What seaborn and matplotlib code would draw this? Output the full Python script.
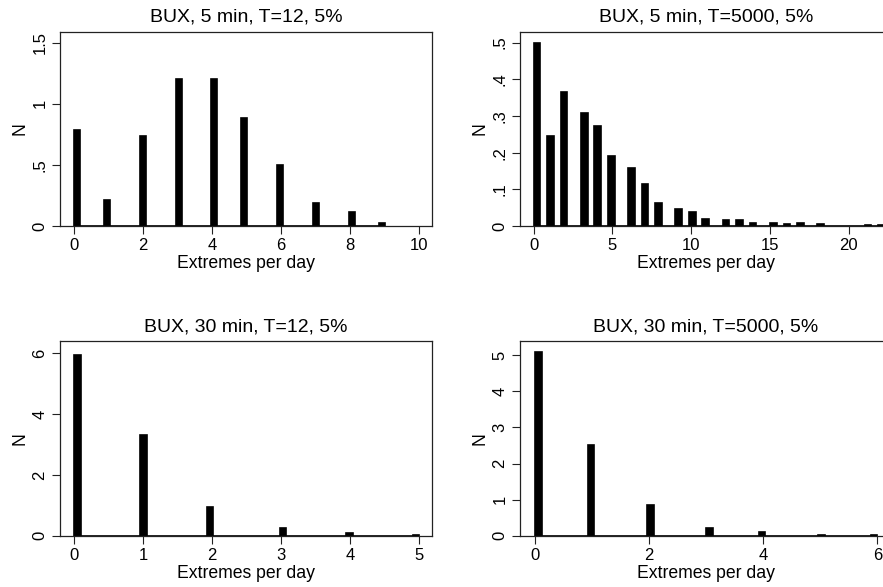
import numpy as np
import pandas as pd
import matplotlib
matplotlib.use("Agg")
import matplotlib.pyplot as plt
import seaborn as sns

# Extremes per day (integer counts) and the histogram density for each count
x_5m_t12 = [0, 1, 2, 3, 4, 5, 6, 7, 8, 9]
h_5m_t12 = [0.788, 0.21, 0.736, 1.203, 1.2, 0.881, 0.502, 0.191, 0.115, 0.025]

x_5m_t5000 = [0, 1, 2, 3, 4, 5, 6, 7, 8, 9, 10, 11, 12, 13, 14, 15, 16, 17, 18, 21, 22]
h_5m_t5000 = [0.5, 0.245, 0.364, 0.308, 0.272, 0.191, 0.159, 0.115, 0.064, 0.046,
              0.037, 0.019, 0.015, 0.016, 0.008, 0.009, 0.0045, 0.008, 0.0045, 0.003, 0.004]

x_30m_t12 = [0, 1, 2, 3, 4, 5]
h_30m_t12 = [5.93, 3.30, 0.93, 0.26, 0.10, 0.03]

x_30m_t5000 = [0, 1, 2, 3, 4, 5, 6]
h_30m_t5000 = [5.08, 2.52, 0.838, 0.21, 0.10, 0.03, 0.03]

titles = ["BUX, 5 min, T=12, 5%", "BUX, 5 min, T=5000, 5%",
          "BUX, 30 min, T=12, 5%", "BUX, 30 min, T=5000, 5%"]

# 52 equal-width bins per histogram
n_bins = 52
edges = [
    [k * 9 / n_bins for k in range(n_bins + 1)],
    [k * 3 / 7 for k in range(n_bins + 1)],
    [k * 5 / n_bins for k in range(n_bins + 1)],
    [k * 6 / n_bins for k in range(n_bins + 1)],
]

xticks = [[0, 2, 4, 6, 8, 10], [0, 5, 10, 15, 20], [0, 1, 2, 3, 4, 5], [0, 2, 4, 6]]
yticks = [[0, 0.5, 1, 1.5], [0, 0.1, 0.2, 0.3, 0.4, 0.5],
          [0, 2, 4, 6], [0, 1, 2, 3, 4, 5]]
yticklabels = [["0", ".5", "1", "1.5"], ["0", ".1", ".2", ".3", ".4", ".5"],
               ["0", "2", "4", "6"], ["0", "1", "2", "3", "4", "5"]]
xlims = [(-0.405, 10.36), (-0.86, 22.72), (-0.203, 5.18), (-0.263, 6.25)]
ylims = [(0, 1.59), (0, 0.53), (0, 6.39), (0, 5.39)]

sns.set_theme(style="white")
plt.rcParams["font.family"] = ["Liberation Sans", "DejaVu Sans"]

fig = plt.figure(figsize=(8.83, 5.87), dpi=100)
W, H = 883, 587
ax_w = 371.7 / W
ax_h = 194.5 / H
positions = [
    (60 / W, (H - 226) / H, ax_w, ax_h),
    (520 / W, (H - 226) / H, ax_w, ax_h),
    (60 / W, (H - 535.7) / H, ax_w, ax_h),
    (520 / W, (H - 535.7) / H, ax_w, ax_h),
]

data = [(x_5m_t12, h_5m_t12), (x_5m_t5000, h_5m_t5000),
        (x_30m_t12, h_30m_t12), (x_30m_t5000, h_30m_t5000)]

for i, (xs, hs) in enumerate(data):
    ax = fig.add_axes(positions[i])
    df = pd.DataFrame({"extremes": xs, "density": hs})
    sns.histplot(data=df, x="extremes", weights="density", bins=edges[i],
                 stat="count", color="black", alpha=1, edgecolor="black",
                 linewidth=1.2, ax=ax)
    ax.set_xlim(*xlims[i])
    ax.set_ylim(*ylims[i])
    ax.set_xticks(xticks[i])
    ax.set_xticklabels([str(t) for t in xticks[i]])
    ax.set_yticks(yticks[i])
    ax.set_yticklabels(yticklabels[i], rotation=90, va="center")
    ax.tick_params(axis="both", direction="out", length=6, width=0.8,
                   color="#222222", labelsize=12, pad=3, labelcolor="black")
    ax.tick_params(axis="x", bottom=True)
    ax.tick_params(axis="y", left=True)
    for sp in ax.spines.values():
        sp.set_color("#222222")
        sp.set_linewidth(0.9)
    ax.set_xlabel("Extremes per day", fontsize=12.7, labelpad=1, color="black")
    ax.set_ylabel("N", fontsize=12.7, labelpad=3, color="black")
    ax.set_title(titles[i], fontsize=14, pad=7, color="black")
    ax.grid(False)

fig.savefig("out.png", dpi=100)
